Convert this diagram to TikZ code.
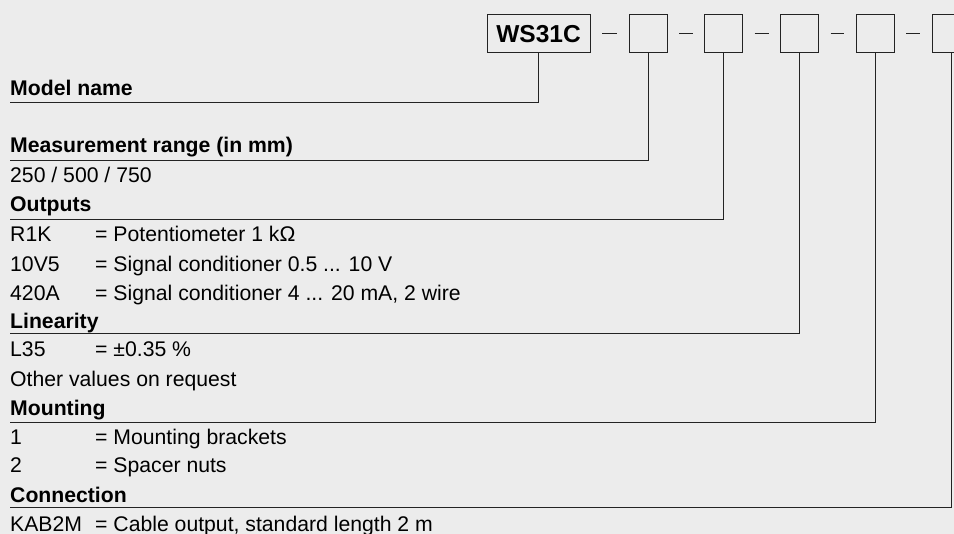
\documentclass[tikz,border=0pt]{standalone}
\usepackage{fontspec}
\setmainfont{Liberation Sans}
\usetikzlibrary{positioning,calc}
\definecolor{bggray}{RGB}{236,236,236}
\definecolor{linegray}{RGB}{35,35,35}

\begin{document}
\begin{tikzpicture}[x=1pt,y=-1pt,
  font=\fontsize{21.2}{25}\selectfont,
  codebox/.style={draw=linegray,line width=1pt,minimum width=38pt,minimum height=38pt,inner sep=0pt},
  head/.style={anchor=base west,inner sep=0pt,font=\fontsize{21.2}{25}\selectfont\bfseries},
  txt/.style={anchor=base west,inner sep=0pt},
  rule/.style={line width=1pt,draw=linegray}]
  % background and page frame
  \fill[bggray] (0,0) rectangle (954,534);
  \clip (0,0) rectangle (954,534);
  % order code boxes
  \node[codebox,minimum width=103pt,minimum height=38pt,font=\fontsize{24.5}{28}\selectfont\bfseries] (ws) at (538.5,34) {WS31C};
  \foreach \i/\x in {1/648,2/723.5,3/799.5,4/875,5/951}
    \node[codebox] (b\i) at (\x,34) {};
  \foreach \a/\b in {ws/b1,b1/b2,b2/b3,b3/b4,b4/b5}
    \draw[rule] ([xshift=11.5pt]\a.east) -- ([xshift=-11.5pt]\b.west);
  % model name
  \node[head] (model) at (10,96) {Model name};
  % measurement range
  \node[head] (range) at (10,153) {Measurement range (in mm)};
  \node[txt] (range1) at (10,183) {250 / 500 / 750};
  % outputs
  \node[head] (outp) at (10,212) {Outputs};
  \node[txt] (outp1) at (10,242) {R1K};
  \node[txt] (outp1v) at (95,242) {= Potentiometer 1 kΩ};
  \node[txt] (outp2) at (10,272) {10V5};
  \node[txt] (outp2v) at (95,272) {= Signal conditioner 0.5 ... 10 V};
  \node[txt] (outp3) at (10,301) {420A};
  \node[txt] (outp3v) at (95,301) {= Signal conditioner 4 ... 20 mA, 2 wire};
  % linearity
  \node[head] (lin) at (10,329) {Linearity};
  \node[txt] (lin1) at (10,357) {L35};
  \node[txt] (lin1v) at (95,357) {= ±0.35 \%};
  \node[txt] (lin2) at (10,387) {Other values on request};
  % mounting
  \node[head] (mount) at (10,416) {Mounting};
  \node[txt] (mount1) at (10,445) {1};
  \node[txt] (mount1v) at (95,445) {= Mounting brackets};
  \node[txt] (mount2) at (10,473) {2};
  \node[txt] (mount2v) at (95,473) {= Spacer nuts};
  % connection
  \node[head] (conn) at (10,503) {Connection};
  \node[txt] (conn1) at (10,531.5) {KAB2M};
  \node[txt] (conn1v) at (95,531.5) {= Cable output, standard length 2 m};
  % leader lines from each box down to its heading
  \coordinate (r0) at (10,103);
  \coordinate (r1) at (10,161);
  \coordinate (r2) at (10,219.5);
  \coordinate (r3) at (10,334);
  \coordinate (r4) at (10,423);
  \coordinate (r5) at (10,508);
  \draw[rule] (ws.south) |- (r0);
  \foreach \i in {1,...,5}
    \draw[rule] (b\i.south) |- (r\i);
\end{tikzpicture}
\end{document}
